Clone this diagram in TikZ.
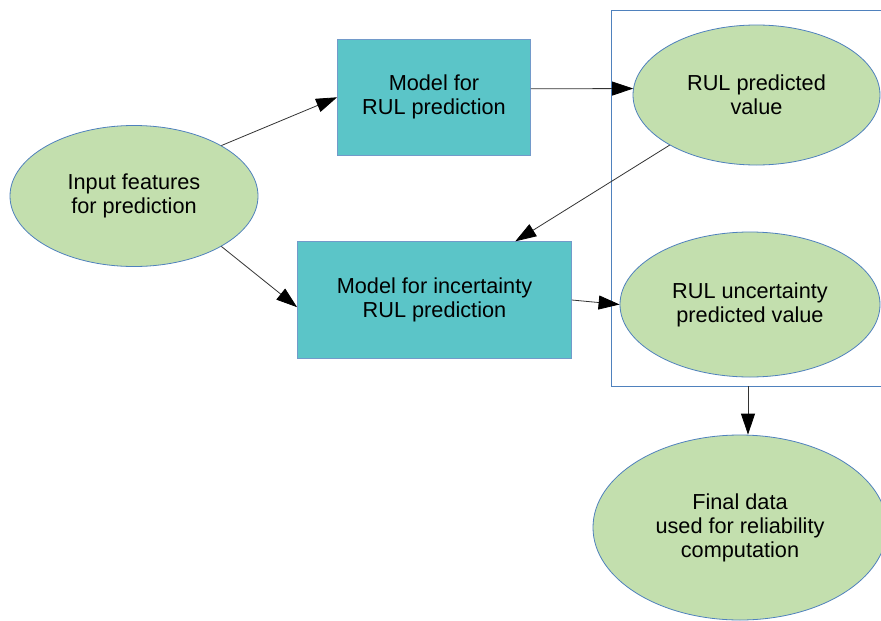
\documentclass[tikz,border=0pt]{standalone}
\usepackage{fontspec}
\setmainfont{Liberation Sans}
\usetikzlibrary{shapes.geometric,arrows.meta}

\definecolor{leaf}{RGB}{195,223,174}
\definecolor{tealbox}{RGB}{91,197,200}
\definecolor{edgeblue}{RGB}{79,129,189}
\definecolor{framblue}{RGB}{79,129,189}

\tikzset{
  txt/.style={font=\fontsize{21.7}{24}\selectfont, align=center, text=black},
  blob/.style={txt, ellipse, draw=edgeblue, line width=0.8pt, fill=leaf, inner sep=0pt},
  modelbox/.style={txt, rectangle, draw=edgeblue!80, line width=0.8pt, fill=tealbox, inner sep=0pt},
  groupframe/.style={rectangle, draw=framblue, line width=0.9pt, inner sep=0pt},
  flow/.style={draw=black!80, line width=0.8pt, -{Triangle[length=21pt,width=14pt,color=black]}}
}

\begin{document}
\begin{tikzpicture}[x=1pt,y=-1pt]
  \useasboundingbox (0,0) rectangle (881,621);
  \clip (0,0) rectangle (881,621);
  \fill[white] (0,0) rectangle (881,621);

  % frame around the two predicted outputs
  \node[groupframe, minimum width=288pt, minimum height=376pt] (grp) at (755.5,198) {};

  % inputs and models
  \node[blob, minimum width=248pt, minimum height=141pt] (in) at (134,196)
    {Input features\\for prediction};
  \node[modelbox, minimum width=193pt, minimum height=116pt] (m1) at (434,97.3)
    {Model for\\RUL prediction};
  \node[modelbox, minimum width=274pt, minimum height=116.6pt] (m2) at (434.5,300)
    {Model for incertainty\\RUL prediction};

  % outputs
  \node[blob, minimum width=247pt, minimum height=140pt] (rp) at (756.5,95)
    {RUL predicted\\value};
  \node[blob, minimum width=260pt, minimum height=145pt] (ru) at (750,304.5)
    {RUL uncertainty\\predicted value};
  \node[blob, minimum width=294pt, minimum height=185pt] (fd) at (740,527.5)
    {Final data\\used for reliability\\computation};

  \coordinate (gout) at (748,386);

  % connectors
  \draw[flow] (in.30) -- (m1.west);
  \draw[flow] (in.-30) -- (m2.183);
  \draw[flow] (m1.5.5) -- (rp.177);
  \draw[flow] (rp.210) -- (m2.36);
  \draw[flow] (m2.east) -- (ru.west);
  \draw[flow] (gout) -- (gout |- fd.north);
\end{tikzpicture}
\end{document}
